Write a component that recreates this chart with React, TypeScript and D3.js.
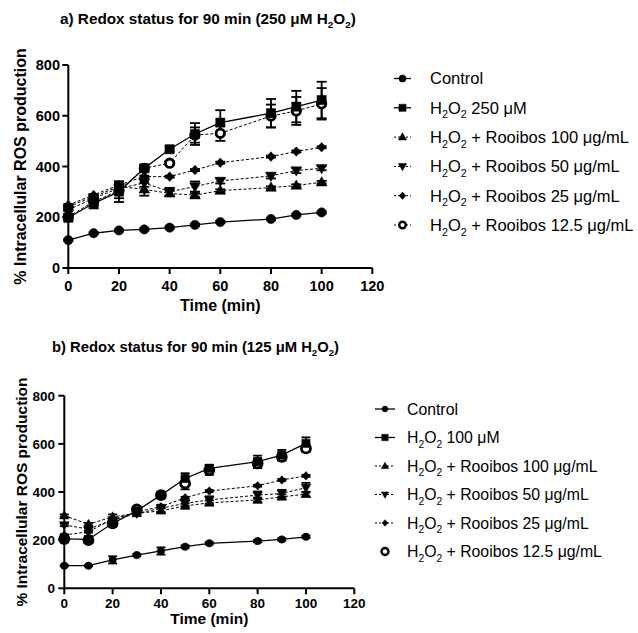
import React from "react";
import * as d3 from "d3";

// ---------- DATA ----------
const times = [0, 10, 20, 30, 40, 50, 60, 80, 90, 100];
const xTicks = [0, 20, 40, 60, 80, 100, 120];
const yTicks = [0, 200, 400, 600, 800];

// Panel a (250 µM H2O2)
const ctrlA = [110, 137, 148, 152, 159, 170, 181, 193, 209, 219];
const ctrlAErr = [4, 4, 4, 4, 4, 4, 4, 4, 4, 4];
const h2o2A = [198, 255, 301, 393, 468, 528, 573, 610, 636, 662];
const h2o2AErr = [10, 20, 41, 12, 8, 43, 49, 56, 62, 72];
const r100A = [242, 281, 321, 310, 294, 287, 305, 317, 325, 338];
const r100AErr = [5, 5, 5, 25, 10, 8, 5, 5, 5, 5];
const r50A = [229, 275, 314, 335, 301, 321, 343, 363, 384, 393];
const r50AErr = [5, 5, 5, 15, 15, 20, 10, 10, 10, 8];
const r25A = [248, 288, 327, 360, 360, 386, 415, 439, 459, 476];
const r25AErr = [4, 4, 4, 4, 4, 4, 4, 4, 4, 4];
const r12A = [202, 262, 305, 393, 413, 524, 531, 599, 619, 647];
const r12AErr = [8, 15, 30, 10, 8, 30, 30, 45, 55, 62];

// Panel b (125 µM H2O2)
const ctrlB = [94, 94, 118, 138, 155, 173, 187, 196, 203, 214];
const ctrlBErr = [3, 3, 15, 5, 15, 5, 5, 5, 5, 5];
const h2o2B = [205, 203, 270, 322, 387, 456, 498, 526, 553, 602];
const h2o2BErr = [8, 8, 10, 5, 10, 22, 15, 25, 22, 25];
const r100B = [302, 266, 297, 311, 322, 342, 355, 367, 380, 391];
const r100BErr = [5, 5, 10, 5, 10, 10, 10, 10, 10, 10];
const r50B = [263, 246, 284, 311, 332, 353, 367, 387, 394, 418];
const r50BErr = [5, 5, 5, 10, 15, 12, 15, 15, 15, 20];
const r25B = [221, 235, 286, 318, 339, 376, 404, 426, 450, 467];
const r25BErr = [4, 4, 4, 4, 4, 4, 4, 4, 4, 4];
const r12B = [205, 200, 270, 328, 387, 436, 491, 519, 546, 581];
const r12BErr = [8, 8, 10, 5, 8, 25, 20, 20, 15, 15];

const labelsA = [
  "Control",
  "H2O2 250 μM",
  "H2O2 + Rooibos 100 μg/mL",
  "H2O2 + Rooibos 50 μg/mL",
  "H2O2 + Rooibos 25 μg/mL",
  "H2O2 + Rooibos 12.5 μg/mL",
];
const labelsB = [
  "Control",
  "H2O2 100 μM",
  "H2O2 + Rooibos 100 μg/mL",
  "H2O2 + Rooibos 50 μg/mL",
  "H2O2 + Rooibos 25 μg/mL",
  "H2O2 + Rooibos 12.5 μg/mL",
];
const titleA = "a) Redox status for 90 min (250 μM H2O2)";
const titleB = "b) Redox status for 90 min (125 μM H2O2)";
const xLabel = "Time (min)";
const yLabel = "% Intracellular ROS production";

// ---------- STYLE ----------
const FONT = "'Liberation Sans', Arial, Helvetica, sans-serif";

const symbolDown = {
  draw(ctx: any, size: number) {
    const s = Math.sqrt(size / (Math.sqrt(3) / 4));
    const h = (s * Math.sqrt(3)) / 2;
    ctx.moveTo(0, h * 0.6);
    ctx.lineTo(s / 2, -h * 0.4);
    ctx.lineTo(-s / 2, -h * 0.4);
    ctx.closePath();
  },
};
const symbolUp = {
  draw(ctx: any, size: number) {
    const s = Math.sqrt(size / (Math.sqrt(3) / 4));
    const h = (s * Math.sqrt(3)) / 2;
    ctx.moveTo(0, -h * 0.6);
    ctx.lineTo(s / 2, h * 0.4);
    ctx.lineTo(-s / 2, h * 0.4);
    ctx.closePath();
  },
};
const symbolRhomb = {
  draw(ctx: any, size: number) {
    const r = Math.sqrt(size / 2);
    ctx.moveTo(0, -r * 1.1);
    ctx.lineTo(r, 0);
    ctx.lineTo(0, r * 1.1);
    ctx.lineTo(-r, 0);
    ctx.closePath();
  },
};

type Style = {
  type: any;
  size: number;
  open?: boolean;
  dashed?: boolean;
  line?: boolean;
  legendLine?: boolean;
};

const stylesA: Style[] = [
  { type: d3.symbolCircle, size: 68 },
  { type: d3.symbolSquare, size: 85 },
  { type: symbolUp, size: 50, dashed: true },
  { type: symbolDown, size: 50, dashed: true },
  { type: symbolRhomb, size: 38, dashed: true },
  { type: d3.symbolCircle, size: 56, open: true, dashed: true },
];
const stylesB: Style[] = [
  { type: d3.symbolCircle, size: 44 },
  { type: d3.symbolSquare, size: 68 },
  { type: symbolUp, size: 40, dashed: true },
  { type: symbolDown, size: 40, dashed: true },
  { type: symbolRhomb, size: 30, dashed: true },
  { type: d3.symbolCircle, size: 64, open: true, line: false, legendLine: false },
];

function rich(label: string, fs: number, keyBase: string) {
  const parts = label.split(/(H2O2)/).filter((p) => p.length > 0);
  const out: any[] = [];
  const sub = fs * 0.65;
  const d = fs * 0.28;
  let pending = 0;
  parts.forEach((p, i) => {
    if (p === "H2O2") {
      out.push(<tspan key={keyBase + i + "a"} dy={pending || undefined}>H</tspan>);
      out.push(<tspan key={keyBase + i + "b"} dy={d} fontSize={sub}>2</tspan>);
      out.push(<tspan key={keyBase + i + "c"} dy={-d}>O</tspan>);
      out.push(<tspan key={keyBase + i + "d"} dy={d} fontSize={sub}>2</tspan>);
      pending = -d;
    } else {
      out.push(
        <tspan key={keyBase + i} dy={pending || undefined}>
          {p}
        </tspan>
      );
      pending = 0;
    }
  });
  return out;
}

type PanelProps = {
  id: string;
  series: number[][];
  errors: number[][];
  styles: Style[];
  labels: string[];
  title: string;
  titleX: number;
  titleY: number;
  titleFs: number;
  xr: [number, number];
  yr: [number, number];
  tickFs: number;
  xTickBase: number;
  yTickEnd: number;
  xLabelY: number;
  xLabelFs: number;
  yLabelX: number;
  yLabelFs: number;
  legX0: number;
  legX1: number;
  legMark: number;
  legText: number;
  legY0: number;
  legStep: number;
  legFs: number;
  capW: number;
};

function Panel(p: PanelProps) {
  const x = d3.scaleLinear().domain([0, 120]).range(p.xr);
  const y = d3.scaleLinear().domain([0, 800]).range(p.yr);
  const line = d3
    .line<number>()
    .x((_, i) => x(times[i]))
    .y((v) => y(v));
  const sym = (s: Style) => d3.symbol().type(s.type).size(s.size)() as string;
  const order = [0, 2, 3, 4, 5, 1];
  return (
    <g>
      <text x={p.titleX} y={p.titleY} fontFamily={FONT} fontWeight="bold" fontSize={p.titleFs}>
        {rich(p.title, p.titleFs, p.id + "t")}
      </text>
      {/* error bars */}
      {order.map((si) =>
        p.series[si].map((v, i) => {
          const e = p.errors[si][i];
          const cx = x(times[i]);
          return (
            <g key={`e${si}-${i}`} stroke="#000" strokeWidth={1.8}>
              <line x1={cx} x2={cx} y1={y(v - e)} y2={y(v + e)} />
              <line x1={cx - p.capW / 2} x2={cx + p.capW / 2} y1={y(v - e)} y2={y(v - e)} />
              <line x1={cx - p.capW / 2} x2={cx + p.capW / 2} y1={y(v + e)} y2={y(v + e)} />
            </g>
          );
        })
      )}
      {/* lines */}
      {order.map((si) => {
        const s = p.styles[si];
        if (s.line === false) return null;
        return (
          <path
            key={`l${si}`}
            d={line(p.series[si]) as string}
            fill="none"
            stroke="#000"
            strokeWidth={s.dashed ? 1 : 1.3}
            strokeDasharray={s.dashed ? "3,2" : undefined}
          />
        );
      })}
      {/* markers */}
      {order.map((si) => {
        const s = p.styles[si];
        const d = sym(s);
        return p.series[si].map((v, i) => (
          <path
            key={`m${si}-${i}`}
            d={d}
            transform={`translate(${x(times[i])},${y(v)})`}
            fill={s.open ? "#fff" : "#000"}
            stroke="#000"
            strokeWidth={s.open ? 2.8 : 0.5}
          />
        ));
      })}
      {/* axes */}
      <g stroke="#000" strokeWidth={2} fill="none">
        <line x1={p.xr[0]} x2={p.xr[1]} y1={p.yr[0]} y2={p.yr[0]} />
        <line x1={p.xr[0]} x2={p.xr[0]} y1={p.yr[0] + 1} y2={p.yr[1]} />
        {xTicks.map((t) => (
          <line key={`xt${t}`} x1={x(t)} x2={x(t)} y1={p.yr[0]} y2={p.yr[0] + 6} />
        ))}
        {yTicks.map((t) => (
          <line key={`yt${t}`} x1={p.xr[0] - 6} x2={p.xr[0]} y1={y(t)} y2={y(t)} />
        ))}
      </g>
      {xTicks.map((t) => (
        <text
          key={`xl${t}`}
          x={x(t)}
          y={p.xTickBase}
          textAnchor="middle"
          fontFamily={FONT}
          fontWeight="bold"
          fontSize={p.tickFs}
        >
          {t}
        </text>
      ))}
      {yTicks.map((t) => (
        <text
          key={`yl${t}`}
          x={p.yTickEnd}
          y={y(t) + p.tickFs * 0.36}
          textAnchor="end"
          fontFamily={FONT}
          fontWeight="bold"
          fontSize={p.tickFs}
        >
          {t}
        </text>
      ))}
      <text
        x={(p.xr[0] + p.xr[1]) / 2}
        y={p.xLabelY}
        textAnchor="middle"
        fontFamily={FONT}
        fontWeight="bold"
        fontSize={p.xLabelFs}
      >
        {xLabel}
      </text>
      <text
        transform={`translate(${p.yLabelX},${(p.yr[0] + p.yr[1]) / 2}) rotate(-90)`}
        textAnchor="middle"
        fontFamily={FONT}
        fontWeight="bold"
        fontSize={p.yLabelFs}
      >
        {yLabel}
      </text>
      {/* legend */}
      {p.labels.map((lab, i) => {
        const s = p.styles[i];
        const ly = p.legY0 + i * p.legStep;
        return (
          <g key={`lg${i}`}>
            {s.legendLine !== false && (
              <line
                x1={p.legX0}
                x2={p.legX1}
                y1={ly}
                y2={ly}
                stroke="#000"
                strokeWidth={s.dashed ? 1 : 1.3}
                strokeDasharray={s.dashed ? "2,2" : undefined}
              />
            )}
            <path
              d={d3.symbol().type(s.type).size(s.size * 0.6)() as string}
              transform={`translate(${p.legMark},${ly})`}
              fill={s.open ? "#fff" : "#000"}
              stroke="#000"
              strokeWidth={s.open ? 2.4 : 0.5}
            />
            <text x={p.legText} y={ly + p.legFs * 0.36} fontFamily={FONT} fontSize={p.legFs}>
              {rich(lab, p.legFs, `${p.id}l${i}`)}
            </text>
          </g>
        );
      })}
    </g>
  );
}

export default function App() {
  return (
    <svg
      width={638}
      height={633}
      style={{ position: "absolute", left: 0, top: 0, background: "#fff" }}
    >
      <rect width={638} height={633} fill="#fff" />
      <Panel
        id="a"
        series={[ctrlA, h2o2A, r100A, r50A, r25A, r12A]}
        errors={[ctrlAErr, h2o2AErr, r100AErr, r50AErr, r25AErr, r12AErr]}
        styles={stylesA}
        labels={labelsA}
        title={titleA}
        titleX={60}
        titleY={24}
        titleFs={15.3}
        xr={[68.3, 372.3]}
        yr={[268, 65]}
        tickFs={14.5}
        xTickBase={291}
        yTickEnd={60}
        xLabelY={311}
        xLabelFs={16}
        yLabelX={26}
        yLabelFs={16}
        legX0={394}
        legX1={411}
        legMark={402.5}
        legText={430}
        legY0={78.5}
        legStep={29.3}
        legFs={16.5}
        capW={10}
      />
      <Panel
        id="b"
        series={[ctrlB, h2o2B, r100B, r50B, r25B, r12B]}
        errors={[ctrlBErr, h2o2BErr, r100BErr, r50BErr, r25BErr, r12BErr]}
        styles={stylesB}
        labels={labelsB}
        title={titleB}
        titleX={52}
        titleY={352}
        titleFs={14.8}
        xr={[64.3, 354.3]}
        yr={[588.3, 395.7]}
        tickFs={13.5}
        xTickBase={608}
        yTickEnd={55}
        xLabelY={624}
        xLabelFs={15.5}
        yLabelX={27}
        yLabelFs={15.5}
        legX0={375}
        legX1={395}
        legMark={385}
        legText={407}
        legY0={409}
        legStep={28.5}
        legFs={15.8}
        capW={9}
      />
    </svg>
  );
}
